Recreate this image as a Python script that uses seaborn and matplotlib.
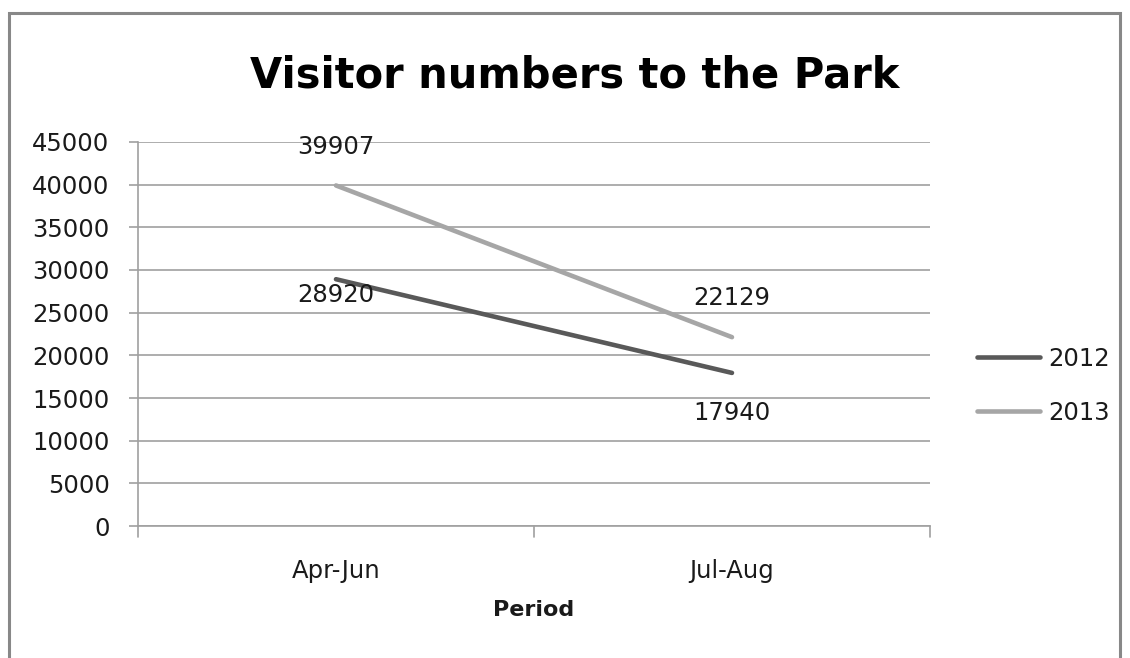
import matplotlib
matplotlib.use("Agg")
import matplotlib.pyplot as plt
import seaborn as sns
import pandas as pd
from matplotlib.patches import Rectangle

periods = ["Apr-Jun", "Jul-Aug"]
years = ["2012", "2013"]
values_2012 = [28920, 17940]
values_2013 = [39907, 22129]
yticks = [0, 5000, 10000, 15000, 20000, 25000, 30000, 35000, 40000, 45000]

df = pd.DataFrame({
    "Period": periods * 2,
    "Year": [years[0]] * 2 + [years[1]] * 2,
    "Visitors": values_2012 + values_2013,
})

sns.set_theme(style="white")
plt.rcParams["font.family"] = ["DejaVu Sans"]

FS = 17.5
TXT = "#1a1a1a"
GRID = "#a0a0a0"

fig = plt.figure(figsize=(11.3, 6.58), dpi=100)
ax = fig.add_axes([0.1221, 0.2006, 0.7009, 0.5836])

palette = {"2012": "#595959", "2013": "#a6a6a6"}
sns.lineplot(data=df, x="Period", y="Visitors", hue="Year", palette=palette,
             linewidth=3.3, ax=ax, sort=False)

ax.set_xlim(-0.5, 1.5)
ax.set_ylim(0, 45000)
ax.set_yticks(yticks)
ax.set_yticklabels([str(v) for v in yticks], fontsize=FS, color=TXT)
ax.set_xticks([0, 1])
ax.set_xticklabels(periods, fontsize=FS, color=TXT)
ax.tick_params(axis="x", length=0, pad=24)
ax.tick_params(axis="y", length=6.5, color=GRID, width=1.2, left=True, pad=14)
for v in [-0.5, 0.5, 1.5]:
    ax.plot([v, v], [0, -1300], color=GRID, lw=1.2, clip_on=False)

ax.grid(axis="y", color=GRID, lw=1.2)
ax.set_axisbelow(True)
for s in ["top", "right"]:
    ax.spines[s].set_visible(False)
ax.spines["left"].set_color(GRID)
ax.spines["left"].set_linewidth(1.2)
ax.spines["bottom"].set_color(GRID)
ax.spines["bottom"].set_linewidth(1.2)

ax.set_xlabel("Period", fontsize=16, fontweight="bold", labelpad=12, color=TXT)
ax.set_ylabel("")

# data labels (offsets in points)
up_offsets = [27.5, 28]
down_offsets = [-11.5, -29]
for i, v in enumerate(values_2013):
    ax.annotate(str(v), (i, v), xytext=(0, up_offsets[i]), textcoords="offset points",
                ha="center", va="center", fontsize=FS, color=TXT)
for i, v in enumerate(values_2012):
    ax.annotate(str(v), (i, v), xytext=(0, down_offsets[i]), textcoords="offset points",
                ha="center", va="center", fontsize=FS, color=TXT)

leg = ax.legend(loc="upper left", bbox_to_anchor=(977 / 1130, 1 - 347 / 658),
                bbox_transform=fig.transFigure, frameon=False, borderpad=0,
                borderaxespad=0, fontsize=FS, handlelength=2.6, handletextpad=0.33,
                labelspacing=1.23, title=None)
for t in leg.get_texts():
    t.set_color(TXT)

fig.text(0.509, 0.886, "Visitor numbers to the Park", ha="center", va="center",
         fontsize=30, fontweight="bold", color="#000000")

fig.patches.append(Rectangle((9 / 1130, -0.05), 1111 / 1130, 1.05 - 13 / 658,
                             transform=fig.transFigure, fill=False,
                             edgecolor="#888888", lw=2.2))

fig.savefig("out.png", dpi=100, facecolor="white")
